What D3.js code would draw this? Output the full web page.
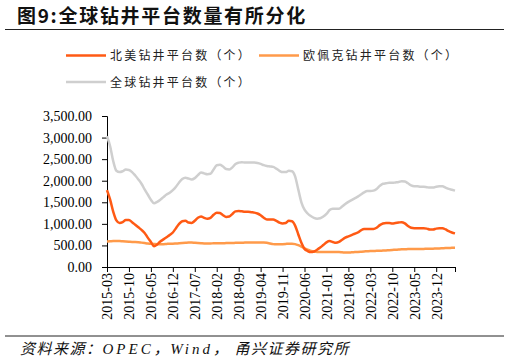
<!DOCTYPE html>
<html>
<head>
<meta charset="utf-8">
<script src="https://cdn.jsdelivr.net/npm/d3@7"></script>
<style>
	body { margin: 0; background: #fff; }
	svg { display: block; }
	.tick-label { font-family: 'Liberation Serif', 'Times New Roman', serif; font-size: 14px; fill: #000; }
	.legend-text { font-family: 'Noto Sans CJK SC', sans-serif; font-size: 12px; fill: #222; letter-spacing: 2.2px; }
</style>
</head>
<body>
<svg id="chart"></svg>
<script>
// month labels, 2015-03 .. 2024-06
const months = [];
for (let y = 2015; y <= 2024; y++) {
	for (let m = 1; m <= 12; m++) {
		if ((y === 2015 && m < 3) || (y === 2024 && m > 6)) continue;
		months.push(`${y}-${String(m).padStart(2, '0')}`);
	}
}

const seriesNames = ['北美钻井平台数（个）', '欧佩克钻井平台数（个）', '全球钻井平台数（个）'];

const northAmerica = [
	1780, 1560, 1280, 1080, 1020, 1040, 1090, 1090, 1040, 980, 920, 860,
	790, 680, 580, 480, 520, 590, 640, 690, 740, 800, 900, 1000,
	1060, 1070, 1030, 1020, 1070, 1140, 1170, 1140, 1120, 1140, 1210, 1260,
	1250, 1200, 1160, 1170, 1230, 1290, 1300, 1290, 1280, 1280, 1270, 1260,
	1240, 1200, 1140, 1100, 1100, 1100, 1070, 1030, 1010, 1020, 1070, 1060,
	960, 760, 560, 420, 370, 345, 360, 400, 450, 510, 570, 600,
	580, 560, 580, 630, 680, 710, 740, 770, 800, 850, 880, 880,
	880, 880, 910, 970, 1010, 1020, 1020, 1010, 1020, 1030, 1040, 1010,
	950, 910, 900, 900, 900, 900, 890, 870, 870, 890, 900, 900,
	870, 830, 800, 780
];

const opec = [
	590, 595, 600, 600, 600, 595, 590, 585, 580, 580, 575, 565,
	555, 545, 540, 535, 530, 530, 530, 535, 540, 540, 545, 550,
	555, 560, 565, 565, 560, 555, 550, 545, 545, 545, 550, 550,
	550, 550, 555, 555, 555, 560, 560, 560, 565, 565, 565, 565,
	565, 565, 565, 560, 545, 530, 525, 525, 530, 535, 540, 540,
	530, 505, 470, 430, 400, 375, 355, 350, 345, 345, 345, 345,
	345, 345, 345, 340, 335, 335, 340, 345, 350, 355, 360, 365,
	370, 370, 375, 375, 380, 385, 390, 395, 400, 405, 410, 410,
	415, 415, 415, 420, 420, 420, 425, 425, 425, 430, 430, 435,
	440, 440, 445, 445
];

const world = [
	3030, 2800, 2450, 2230, 2200, 2220, 2260, 2250, 2200, 2120, 2030, 1930,
	1800, 1680, 1560, 1480, 1510, 1560, 1620, 1680, 1720, 1780, 1860, 1960,
	2040, 2070, 2050, 2030, 2060, 2130, 2190, 2170, 2150, 2160, 2260, 2360,
	2370, 2330, 2270, 2260, 2310, 2390, 2420, 2430, 2420, 2420, 2420, 2420,
	2410, 2390, 2360, 2340, 2330, 2320, 2280, 2230, 2200, 2200, 2230, 2220,
	2100, 1800, 1500, 1330, 1240, 1180, 1140, 1120, 1130, 1170, 1230, 1320,
	1350, 1350, 1350, 1400, 1460, 1510, 1550, 1590, 1630, 1680, 1730, 1760,
	1760, 1770, 1810, 1880, 1930, 1940, 1950, 1950, 1960, 1970, 1990, 1980,
	1940, 1890, 1870, 1870, 1860, 1860, 1850, 1840, 1840, 1860, 1870, 1870,
	1840, 1810, 1790, 1770
];

const yTicks = [0, 500, 1000, 1500, 2000, 2500, 3000, 3500];
const colors = ['#ff5a14', '#ff9a4a', '#cfcfcf'];

const width = 509, height = 363;
const margin = { top: 116, right: 54, bottom: 96, left: 107 };

const svg = d3.select('#chart').attr('width', width).attr('height', height);

// title
svg.append('text')
	.attr('x', 17)
	.attr('y', 23)
	.style('font-family', "'Noto Sans CJK SC', sans-serif")
	.style('font-weight', 'bold')
	.style('font-size', '19px')
	.style('letter-spacing', '1.7px')
	.style('fill', '#111')
	.text('图9:全球钻井平台数量有所分化');

svg.append('line')
	.attr('x1', 5).attr('x2', 504)
	.attr('y1', 29.5).attr('y2', 29.5)
	.attr('stroke', '#222').attr('stroke-width', 1.2);

// legend
const legendItems = [
	{ name: seriesNames[0], color: colors[0], x: 66, y: 55.5 },
	{ name: seriesNames[1], color: colors[1], x: 259, y: 55.5 },
	{ name: seriesNames[2], color: colors[2], x: 66, y: 82 },
];
const legend = svg.append('g');
legendItems.forEach((d) => {
	legend.append('line')
		.attr('x1', d.x).attr('x2', d.x + 40)
		.attr('y1', d.y).attr('y2', d.y)
		.attr('stroke', d.color).attr('stroke-width', 2.5);
	legend.append('text')
		.attr('class', 'legend-text')
		.attr('x', d.x + 44)
		.attr('y', d.y + 4.5)
		.text(d.name);
});

const chart = svg.append('g');

const x = d3.scalePoint()
	.domain(months)
	.range([margin.left, width - margin.right]);

const y = d3.scaleLinear()
	.domain([0, 3500])
	.range([height - margin.bottom, margin.top]);

// y axis
const yAxis = chart.append('g')
	.attr('transform', `translate(${margin.left},0)`)
	.call(d3.axisLeft(y).tickValues(yTicks).tickSize(5).tickPadding(10)
		.tickFormat((d) => d3.format(',.2f')(d)));
yAxis.select('.domain').attr('stroke', '#000');
yAxis.selectAll('.tick line').attr('stroke', '#000');
yAxis.selectAll('.tick text').attr('class', 'tick-label').attr('fill', null);

// x axis
const xTickValues = months.filter((d, i) => i % 7 === 0);
const xAxis = chart.append('g')
	.attr('transform', `translate(0,${height - margin.bottom})`)
	.call(d3.axisBottom(x).tickValues(xTickValues).tickSize(5).tickSizeOuter(0));
xAxis.select('.domain').attr('stroke', '#000');
xAxis.selectAll('.tick line').attr('stroke', '#000');
xAxis.selectAll('.tick text')
	.attr('class', 'tick-label')
	.attr('fill', null)
	.attr('transform', 'rotate(-90)')
	.attr('text-anchor', 'end')
	.attr('x', -6)
	.attr('y', 0)
	.attr('dy', '0.35em');
// closing tick at the end of the axis
xAxis.append('line')
	.attr('x1', x(months[months.length - 1]) + 0.5)
	.attr('x2', x(months[months.length - 1]) + 0.5)
	.attr('y1', 0).attr('y2', 5)
	.attr('stroke', '#000');

const line = d3.line()
	.x((d, i) => x(months[i]))
	.y((d) => y(d))
	.curve(d3.curveMonotoneX);

[world, opec, northAmerica].forEach((s, k) => {
	chart.append('path')
		.datum(s)
		.attr('fill', 'none')
		.attr('stroke', colors[2 - k])
		.attr('stroke-width', 2.5)
		.attr('stroke-linejoin', 'round')
		.attr('d', line);
});

// source note
svg.append('line')
	.attr('x1', 5).attr('x2', 504)
	.attr('y1', 336).attr('y2', 336)
	.attr('stroke', '#222').attr('stroke-width', 1);

const src = svg.append('text')
	.attr('x', 20)
	.attr('y', 354)
	.style('font-size', '15px')
	.style('font-style', 'italic')
	.style('letter-spacing', '1.5px')
	.style('fill', '#111');
src.append('tspan').style('font-family', "'Noto Sans CJK SC', sans-serif").text('资料来源：');
src.append('tspan').style('font-family', "'Liberation Serif', serif").style('letter-spacing', '3px').text('OPEC');
src.append('tspan').style('font-family', "'Noto Sans CJK SC', sans-serif").text('，');
src.append('tspan').style('font-family', "'Liberation Serif', serif").style('letter-spacing', '3px').text('Wind');
src.append('tspan').style('font-family', "'Noto Sans CJK SC', sans-serif").text('，  甬兴证券研究所');
</script>
</body>
</html>
